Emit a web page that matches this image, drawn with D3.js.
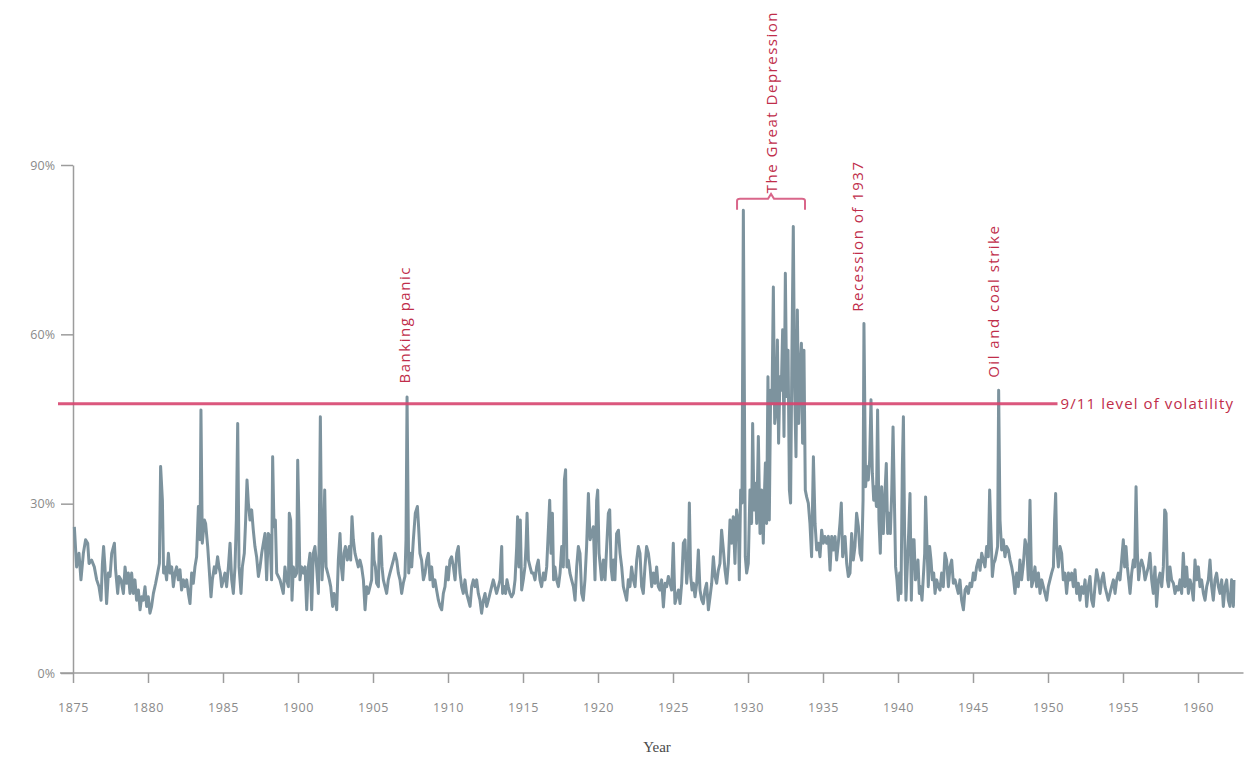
<!DOCTYPE html>
<html><head><meta charset="utf-8">
<script src="https://cdn.jsdelivr.net/npm/d3@7"></script>
<style>
body{margin:0;background:#fff;}
svg{display:block;}
</style></head><body><svg id="chart" width="1251" height="761"></svg>
<script>
// ---------------- data ----------------
const years = [
1885.09,1885.24,1885.40,1885.53,1885.69,1885.84,1885.98,1886.07,1886.24,1886.42,
1886.58,1886.73,1886.87,1886.96,1887.04,1887.13,1887.24,1887.36,1887.47,1887.58,
1887.76,1887.84,1887.98,1888.07,1888.20,1888.36,1888.47,1888.58,1888.69,1888.80,
1888.91,1889.02,1889.13,1889.24,1889.36,1889.47,1889.58,1889.69,1889.80,1889.91,
1890.02,1890.13,1890.24,1890.36,1890.51,1890.64,1890.76,1890.84,1890.96,1891.04,
1891.13,1891.24,1891.36,1891.47,1891.58,1891.69,1891.80,1891.91,1892.02,1892.13,
1892.24,1892.36,1892.47,1892.58,1892.69,1892.80,1892.91,1893.02,1893.13,1893.24,
1893.36,1893.47,1893.53,1893.62,1893.76,1893.84,1893.98,1894.07,1894.20,1894.29,
1894.42,1894.51,1894.64,1894.73,1894.82,1894.91,1895.02,1895.13,1895.24,1895.36,
1895.47,1895.58,1895.69,1895.80,1895.89,1895.98,1896.07,1896.20,1896.29,1896.42,
1896.51,1896.60,1896.69,1896.80,1896.91,1897.02,1897.13,1897.24,1897.36,1897.47,
1897.58,1897.69,
1897.80,1897.91,1898.02,1898.13,1898.24,1898.31,1898.40,1898.49,1898.58,1898.69,
1898.80,1898.91,1899.02,1899.13,1899.24,1899.36,1899.42,1899.51,1899.60,1899.69,
1899.80,1899.91,1899.98,1900.07,1900.13,1900.24,1900.36,1900.47,1900.58,1900.69,
1900.80,1900.91,1901.02,1901.13,1901.24,1901.36,1901.42,1901.49,1901.60,1901.69,
1901.78,1901.87,1901.98,1902.09,1902.18,1902.31,1902.40,1902.49,1902.58,1902.69,
1902.80,1902.89,1902.98,1903.07,1903.16,1903.29,1903.42,1903.51,1903.60,1903.69,
1903.80,1903.91,1904.02,1904.13,1904.24,1904.36,1904.47,1904.58,1904.69,1904.80,
1904.91,1904.98,1905.07,1905.16,1905.24,1905.36,1905.42,1905.51,1905.60,1905.69,
1905.80,1905.91,1906.02,1906.13,1906.24,1906.36,1906.47,1906.58,1906.69,1906.80,
1906.91,1907.02,1907.13,1907.20,1907.27,1907.38,1907.47,1907.58,1907.69,1907.82,
1907.96,1908.04,1908.13,1908.24,1908.36,1908.47,1908.58,1908.69,1908.80,1908.91,
1909.02,1909.13,1909.24,1909.36,1909.47,1909.58,1909.69,1909.80,1909.91,1910.02,
1910.13,1910.24,1910.36,1910.47,1910.58,1910.69,
1910.80,1910.91,1911.02,1911.13,1911.24,1911.36,1911.47,1911.58,1911.69,1911.80,
1911.91,1912.02,1912.13,1912.24,1912.36,1912.47,1912.58,1912.69,1912.80,1912.91,
1913.02,1913.13,1913.24,1913.36,1913.47,1913.58,1913.64,1913.76,1913.84,1913.93,
1914.02,1914.13,1914.24,1914.36,1914.47,1914.58,1914.64,1914.73,1914.82,1914.91,
1915.02,1915.13,1915.20,1915.27,1915.36,1915.47,1915.58,1915.69,1915.80,1915.91,
1916.02,1916.13,1916.24,1916.36,1916.47,1916.58,1916.69,1916.78,1916.87,1916.96,
1917.04,1917.13,1917.24,1917.36,1917.47,1917.58,1917.69,1917.76,1917.84,1917.93,
1918.02,1918.13,1918.24,1918.36,1918.47,1918.58,1918.69,1918.80,1918.91,1919.02,
1919.13,1919.24,1919.36,1919.47,1919.58,1919.69,1919.80,1919.91,1919.98,1920.07,
1920.16,1920.24,1920.36,1920.47,1920.58,1920.69,1920.78,1920.87,1920.96,1921.04,
1921.13,1921.24,1921.36,1921.47,1921.58,1921.69,1921.80,1921.91,1922.02,1922.13,
1922.24,1922.36,1922.47,1922.58,1922.69,1922.80,1922.91,1923.02,1923.13,1923.24,
1923.36,1923.47,1923.58,1923.69,
1923.80,1923.91,1924.02,1924.13,1924.24,1924.36,1924.47,1924.58,1924.69,1924.80,
1924.91,1925.02,1925.13,1925.24,1925.36,1925.47,1925.58,1925.69,1925.80,1925.91,
1926.02,1926.09,1926.18,1926.27,1926.36,1926.47,1926.58,1926.69,1926.80,1926.91,
1927.02,1927.13,1927.24,1927.36,1927.47,1927.58,1927.69,1927.80,1927.91,1928.02,
1928.13,1928.24,1928.36,1928.47,1928.58,1928.69,1928.80,1928.91,1929.02,1929.13,
1929.24,1929.36,1929.42,1929.51,1929.60,1929.69,1929.82,1929.91,1930.02,1930.13,
1930.24,1930.31,1930.40,1930.49,1930.58,1930.69,1930.80,1930.91,1931.02,1931.09,
1931.16,1931.24,1931.33,1931.42,1931.51,1931.60,1931.69,1931.78,1931.87,1931.96,
1932.04,1932.13,1932.22,1932.31,1932.40,1932.49,1932.58,1932.67,1932.76,1932.84,
1932.93,1933.02,1933.11,1933.20,1933.29,1933.38,1933.47,1933.56,1933.64,1933.73,
1933.82,1933.91,1934.02,1934.13,1934.24,1934.36,1934.47,1934.58,1934.69,1934.80,
1934.91,1935.02,1935.13,1935.24,1935.36,1935.47,1935.58,1935.69,1935.80,1935.91,
1936.02,1936.13,1936.22,1936.31,1936.47,1936.58,1936.69,
1936.80,1936.91,1937.02,1937.13,1937.24,1937.36,1937.47,1937.58,1937.67,1937.73,
1937.84,1937.93,1938.02,1938.11,1938.20,1938.29,1938.38,1938.47,1938.56,1938.64,
1938.73,1938.82,1938.91,1939.02,1939.13,1939.22,1939.31,1939.40,1939.49,1939.58,
1939.67,1939.76,1939.84,1939.93,1940.02,1940.11,1940.20,1940.29,1940.36,1940.44,
1940.53,1940.62,1940.71,1940.80,1940.89,1940.98,1941.07,1941.16,1941.24,1941.33,
1941.42,1941.51,1941.60,1941.69,1941.78,1941.84,1941.93,1942.02,1942.11,1942.20,
1942.29,1942.38,1942.47,1942.58,1942.69,1942.80,1942.91,1943.02,1943.13,1943.24,
1943.36,1943.47,1943.58,1943.69,1943.80,1943.91,1944.02,1944.13,1944.24,1944.36,
1944.47,1944.58,1944.69,1944.80,1944.91,1945.02,1945.13,1945.24,1945.36,1945.47,
1945.58,1945.69,1945.80,1945.91,1946.02,1946.11,1946.20,1946.29,1946.38,1946.47,
1946.56,1946.64,1946.71,1946.80,1946.91,1947.02,1947.13,1947.24,1947.36,1947.47,
1947.58,1947.69,1947.80,1947.91,1948.02,1948.13,1948.24,1948.36,1948.47,1948.58,
1948.69,1948.80,1948.91,1949.02,1949.13,1949.24,1949.36,1949.47,1949.58,1949.69,
1949.91,1950.02,1950.13,1950.24,1950.36,1950.44,1950.51,1950.58,1950.69,1950.80,
1950.91,1951.02,1951.13,1951.24,1951.36,1951.47,1951.58,1951.69,1951.80,1951.91,
1952.02,1952.13,1952.24,1952.36,1952.47,1952.58,1952.69,1952.80,1952.91,1953.02,
1953.13,1953.24,1953.36,1953.47,1953.58,1953.69,1953.80,1953.91,1954.02,1954.13,
1954.24,1954.36,1954.47,1954.58,1954.69,1954.80,1954.91,1955.02,1955.11,1955.20,
1955.29,1955.38,1955.47,1955.58,1955.69,1955.78,1955.87,1955.96,1956.04,1956.13,
1956.24,1956.36,1956.47,1956.58,1956.69,1956.80,1956.91,1957.02,1957.13,1957.24,
1957.36,1957.47,1957.58,1957.69,1957.78,1957.87,1957.96,1958.04,1958.13,1958.24,
1958.36,1958.47,1958.58,1958.69,1958.80,1958.91,1959.02,1959.13,1959.24,1959.36,
1959.47,1959.58,1959.69,1959.80,1959.91,1960.02,1960.13,1960.24,1960.36,1960.47,
1960.58,1960.69,1960.80,1960.91,1961.02,1961.13,1961.24,1961.36,1961.47,1961.58,
1961.69,1961.80,1961.91,1962.02,1962.13,1962.24,1962.36,1962.40
];
const volatility = [
25.9,18.8,21.2,16.5,21.2,23.6,23.0,19.4,20.0,18.8,
16.5,15.3,12.9,19.4,22.4,18.8,12.3,17.7,17.1,21.2,
23.0,18.3,14.1,17.1,16.5,14.1,18.8,15.9,17.7,14.1,
17.7,14.1,16.5,12.9,14.7,11.2,13.5,12.9,15.3,11.8,
13.5,10.6,11.8,14.1,15.9,17.7,19.4,36.6,30.6,17.7,
18.8,16.5,21.2,17.7,18.8,15.3,17.7,18.8,16.5,18.3,
14.7,16.5,15.3,16.5,14.1,12.3,17.7,15.9,18.8,20.6,
29.5,23.6,46.6,23.0,27.1,26.5,22.4,18.8,13.5,16.5,
18.8,17.7,20.6,18.8,17.7,15.3,16.5,17.7,15.3,18.8,
23.0,16.5,14.1,18.8,27.1,44.2,18.8,14.1,18.8,21.2,
27.1,34.2,30.1,27.1,28.9,25.3,22.4,20.6,17.1,18.8,
21.2,23.0,
24.7,16.5,24.7,24.2,16.5,38.3,25.9,27.1,17.7,17.1,
16.5,15.3,14.1,18.8,16.5,15.3,28.3,27.1,12.9,18.8,
17.1,17.7,37.7,25.9,16.5,18.8,17.7,18.8,11.2,18.8,
21.2,11.2,21.2,22.4,18.8,14.1,25.3,45.4,16.5,21.2,
32.4,18.8,17.7,16.5,15.3,11.8,14.1,12.9,11.2,20.0,
24.7,18.8,16.5,21.2,22.4,20.0,22.4,20.0,27.7,23.6,
21.2,20.0,18.8,20.0,18.8,16.5,11.2,15.3,14.1,15.3,
16.5,24.7,20.0,18.8,15.9,15.3,23.6,24.2,18.8,16.5,
15.3,14.1,16.5,17.7,18.8,20.0,21.2,20.0,17.7,16.5,
14.1,15.9,17.1,23.6,48.9,17.7,21.2,18.8,23.6,28.3,
29.5,25.9,21.2,20.0,16.5,17.7,20.0,21.2,16.5,18.8,
15.3,16.5,14.7,12.9,11.8,11.2,14.1,15.3,18.8,16.5,
20.0,20.6,18.8,16.5,21.2,22.4,
17.7,15.3,14.1,16.5,14.1,12.9,11.8,15.3,16.5,15.3,
16.5,14.1,12.9,10.6,12.9,14.1,11.8,12.9,14.1,15.3,
16.5,15.3,14.1,15.3,16.5,22.4,14.1,15.3,14.1,16.5,
15.3,14.1,13.5,14.1,16.5,22.4,27.7,18.8,27.1,14.7,
16.5,18.8,22.4,28.3,20.0,18.8,17.7,17.7,16.5,18.8,
20.0,16.5,15.3,17.7,16.5,18.8,25.3,30.6,21.2,28.3,
16.5,18.8,16.5,15.3,17.7,22.4,18.8,34.2,36.0,18.8,
20.0,17.7,16.5,15.3,12.9,18.8,22.4,21.2,14.1,12.9,
16.5,22.4,31.8,23.6,24.7,25.9,16.5,30.6,32.4,21.2,
18.8,16.5,20.0,16.5,22.4,28.3,28.9,18.8,16.5,20.0,
16.5,24.7,25.3,21.2,18.8,15.3,14.1,12.9,16.5,15.3,
18.8,16.5,15.3,20.0,22.4,21.2,15.3,14.1,18.8,22.4,
21.2,18.8,15.3,17.7,
15.9,18.8,15.3,14.7,16.5,11.7,15.9,15.3,17.1,15.9,
14.7,23.0,12.3,13.5,14.7,12.3,15.9,23.0,23.6,15.9,
19.4,30.1,17.1,14.7,15.9,13.5,15.9,21.8,14.7,13.0,
12.3,14.7,15.9,11.2,13.5,15.9,20.6,17.1,15.9,18.2,
19.4,25.3,21.8,18.2,15.9,19.4,27.1,23.0,27.7,19.4,
28.9,26.5,16.5,32.4,30.1,82.0,20.6,17.7,19.4,32.4,
26.5,44.2,28.9,33.6,26.5,41.9,24.7,32.4,23.0,31.2,
37.2,26.5,52.5,27.1,50.1,47.8,68.4,44.2,46.6,59.0,
40.7,52.5,50.1,60.8,41.9,70.8,49.0,57.2,32.4,30.1,
57.2,79.1,50.1,38.3,64.3,44.2,53.7,58.4,40.7,57.2,
32.4,31.2,30.1,26.5,20.6,38.3,26.5,21.8,23.0,20.6,
25.3,23.0,24.2,23.0,24.2,18.2,24.2,21.8,24.2,20.0,
23.0,26.5,30.1,20.6,24.2,19.4,17.1,
17.7,24.7,20.0,22.4,28.3,25.9,21.2,20.0,30.6,61.9,
33.0,36.6,34.2,37.7,48.4,35.4,30.6,33.0,29.5,46.6,
27.1,21.2,33.0,24.7,31.8,37.1,24.7,28.3,24.7,31.8,
43.6,30.6,18.8,16.5,12.9,17.7,14.1,36.6,45.4,24.7,
12.9,18.8,24.7,31.8,12.9,23.6,23.6,16.5,17.7,20.0,
14.1,15.3,12.9,17.1,21.2,31.2,23.0,15.3,22.4,20.0,
16.5,17.7,14.1,16.5,15.3,14.7,17.7,15.3,21.2,20.0,
15.3,18.8,20.0,15.9,16.5,15.3,14.1,16.5,12.9,11.2,
14.7,15.3,14.1,15.9,15.3,17.7,16.5,18.8,20.0,18.2,
21.2,20.0,18.8,22.4,20.6,32.4,24.7,17.1,19.4,20.0,
21.2,22.4,50.1,27.1,21.8,23.6,20.6,22.4,21.8,20.0,
18.8,17.1,14.1,17.7,15.3,20.0,16.5,19.4,23.6,22.4,
16.5,30.6,15.3,16.5,18.8,15.3,17.7,14.1,16.5,15.3,
12.9,15.3,16.5,17.7,18.8,27.1,31.8,22.4,18.8,22.4,
21.2,16.5,17.7,14.1,17.7,16.5,17.7,15.3,18.3,14.1,
15.9,12.9,15.3,14.1,16.5,11.8,15.3,17.1,12.9,11.8,
15.3,18.3,16.5,14.1,16.5,17.7,15.3,14.1,12.9,14.1,
15.3,16.5,14.1,16.5,17.7,16.5,20.0,23.6,18.8,22.4,
18.8,16.5,14.1,17.7,20.0,18.8,33.0,21.2,16.5,18.8,
20.0,18.8,16.5,17.7,18.8,21.2,16.5,14.1,18.8,11.8,
16.5,17.7,15.3,18.8,28.9,28.3,16.5,15.3,18.8,16.5,
15.9,14.1,15.3,14.7,16.5,14.1,21.2,15.3,18.8,14.1,
16.5,15.3,12.9,20.0,16.5,18.8,15.3,16.5,14.1,12.9,
15.3,16.5,20.0,15.3,12.9,16.5,17.7,15.3,14.1,16.5,
11.8,15.3,16.5,12.9,11.8,16.5,11.8,16.5
];
const tickYears = [1885,1890,1895,1900,1905,1910,1915,1920,1925,1930,1935,1940,1945,1950,1955,1960];
const tickLabels = ["1875","1880","1985","1900","1905","1910","1915","1920","1925","1930","1935","1940","1945","1950","1955","1960"];
const yTickValues = [0,30,60,90];
const benchmarkValue = 47.7;
const benchmarkLabel = "9/11 level of volatility";
const eventLabels = ["Banking panic","The Great Depression","Recession of 1937","Oil and coal strike"];
const eventYears  = [1907.13, 1931.6, 1937.3, 1946.4];
const eventValues = [51.3, 85.0, 64.0, 52.3];
const depressionSpan = [1929.27, 1933.8];
const depressionBracketValue = 84.0;
const xTitle = "Year";

// ---------------- chart ----------------
const svg = d3.select("#chart");
const x = d3.scaleLinear().domain([1885, 1962.5]).range([73, 1235.5]);
const y = d3.scaleLinear().domain([0, 90]).range([673, 165]);
const axisColor = "#9c9c9c";
const labelColor = "#8a8a8a";
const redLine = "#d8456f";
const redText = "#c02d4a";

// y axis
const gy = svg.append("g").attr("transform", `translate(${x.range()[0]},0)`)
  .call(d3.axisLeft(y).tickValues(yTickValues).tickFormat(d => d + "%")
    .tickSize(12).tickSizeOuter(0).tickPadding(6));
gy.select(".domain").attr("stroke", axisColor).attr("stroke-width", 1.5);
gy.selectAll(".tick line").attr("stroke", axisColor).attr("stroke-width", 1.5);
gy.selectAll(".tick text").attr("fill", labelColor)
  .style("font-family", "'Open Sans', sans-serif").style("font-size", "12.5px");

// x axis
const gx = svg.append("g").attr("transform", `translate(0,${y(0)})`)
  .call(d3.axisBottom(x).tickValues(tickYears).tickFormat((d, i) => tickLabels[i])
    .tickSize(10).tickSizeOuter(0).tickPadding(20));
gx.select(".domain").remove();
gx.selectAll(".tick line").attr("stroke", axisColor).attr("stroke-width", 1.5);
gx.selectAll(".tick text").attr("fill", labelColor)
  .style("font-family", "'Open Sans', sans-serif").style("font-size", "12.5px")
  .style("letter-spacing", "0.6px");
svg.append("line")
  .attr("x1", x.range()[0] - 13).attr("x2", x.range()[1] + 8)
  .attr("y1", y(0)).attr("y2", y(0))
  .attr("stroke", axisColor).attr("stroke-width", 1.5);

svg.append("text")
  .attr("x", 657).attr("y", 752)
  .attr("text-anchor", "middle")
  .attr("fill", "#4a4a4a")
  .style("font-family", "'Liberation Serif', 'DejaVu Serif', serif")
  .style("font-size", "15px")
  .text(xTitle);

// series
const n = Math.min(years.length, volatility.length);
const idx = d3.range(n);
svg.append("path")
  .datum(idx)
  .attr("fill", "none")
  .attr("stroke", "#7d939e")
  .attr("stroke-width", 3)
  .attr("stroke-linejoin", "round")
  .attr("d", d3.line().x(i => x(years[i])).y(i => y(volatility[i])));

// benchmark line
const bx1 = x.range()[0] - 15, bx2 = x.range()[1] - 178;
svg.append("line")
  .attr("x1", bx1).attr("x2", bx2)
  .attr("y1", y(benchmarkValue)).attr("y2", y(benchmarkValue))
  .attr("stroke", redLine).attr("stroke-width", 3).attr("opacity", 0.9);
svg.append("text")
  .attr("x", bx2 + 3).attr("y", y(benchmarkValue)).attr("dy", "0.35em")
  .attr("fill", redText)
  .style("font-family", "'Open Sans', sans-serif").style("font-size", "15px")
  .style("letter-spacing", "1.1px")
  .text(benchmarkLabel);

// event annotations (vertical text)
eventLabels.forEach((lab, i) => {
  svg.append("text")
    .attr("transform", `translate(${x(eventYears[i])},${y(eventValues[i])}) rotate(-90)`)
    .attr("dy", "0.35em")
    .attr("text-anchor", "start")
    .attr("fill", redText)
    .style("font-family", "'Open Sans', sans-serif").style("font-size", "15px")
    .style("letter-spacing", "1.5px")
    .text(lab);
});

// depression bracket
const bxA = x(depressionSpan[0]), bxB = x(depressionSpan[1]);
const bxC = (bxA + bxB) / 2, by = y(depressionBracketValue);
svg.append("path")
  .attr("d", `M${bxA},${by + 11} L${bxA},${by + 2} Q${bxA},${by} ${bxA + 3},${by} L${bxC - 3},${by} L${bxC},${by - 5} L${bxC + 3},${by} L${bxB - 3},${by} Q${bxB},${by} ${bxB},${by + 2} L${bxB},${by + 11}`)
  .attr("fill", "none").attr("stroke", "#d9668a").attr("stroke-width", 2);
</script></body></html>
